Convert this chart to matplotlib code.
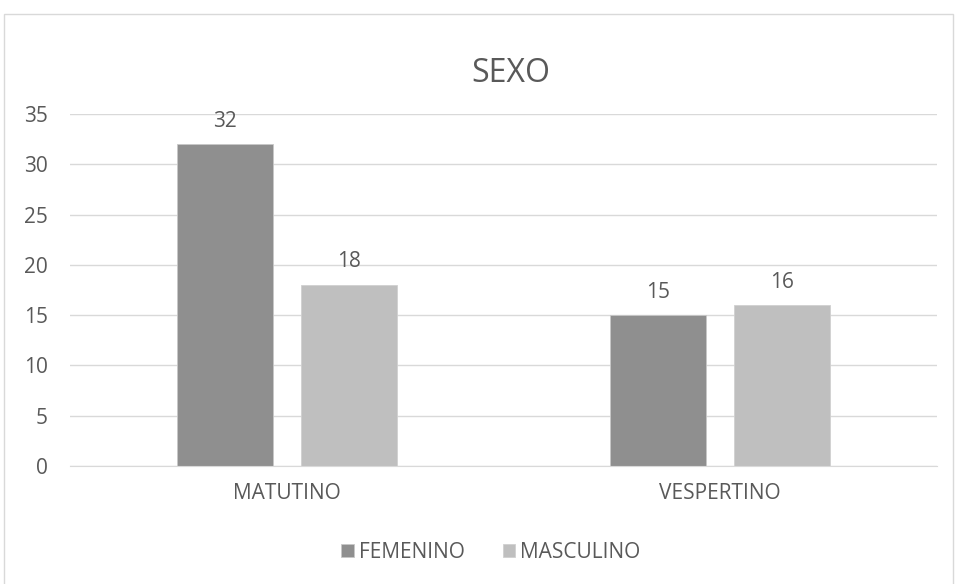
import matplotlib.pyplot as plt
import numpy as np
from matplotlib.patches import Rectangle

turnos = ['MATUTINO', 'VESPERTINO']
femenino = [32, 15]
masculino = [18, 16]
series_labels = ['FEMENINO', 'MASCULINO']
yticks = [0, 5, 10, 15, 20, 25, 30, 35]

txt = '#595959'
plt.rcParams['font.family'] = ['Open Sans', 'DejaVu Sans']
fs = 15

fig = plt.figure(figsize=(9.56, 5.84), dpi=100)
ax = fig.add_axes([70/956, 1 - 466/584, 867/956, 352/584])

# chart border
fig.patches.append(Rectangle((4/956, -0.01), 949/956, 1 - 14/584 + 0.01,
                             transform=fig.transFigure, fill=False,
                             edgecolor='#d9d9d9', linewidth=1))

x = np.arange(len(turnos))
w = 0.222
off = 0.143
b1 = ax.bar(x - off, femenino, w, color='#8f8f8f', edgecolor='#c8c8c8',
            linewidth=0.6, label=series_labels[0], zorder=3)
b2 = ax.bar(x + off, masculino, w, color='#bfbfbf', edgecolor='#d0d0d0',
            linewidth=0.6, label=series_labels[1], zorder=3)

for bars in (b1, b2):
    for r in bars:
        ax.annotate(f'{r.get_height():g}', (r.get_x() + r.get_width()/2, r.get_height()),
                    xytext=(0, 9), textcoords='offset points', ha='center', va='bottom',
                    fontsize=fs, color=txt)

ax.set_xlim(-0.5, 1.5)
ax.set_ylim(0, 35)
ax.set_yticks(yticks)
ax.set_xticks(x)
ax.set_xticklabels(turnos)
ax.tick_params(axis='y', length=0, pad=16, labelsize=fs, labelcolor=txt)
ax.tick_params(axis='x', length=0, pad=12, labelsize=fs, labelcolor=txt)
ax.grid(axis='y', color='#d9d9d9', linewidth=1, zorder=0)
for s in ['top', 'right', 'left']:
    ax.spines[s].set_visible(False)
ax.spines['bottom'].set_color('#d9d9d9')
ax.spines['bottom'].set_zorder(4)

fig.text(511/956, 1 - 74/584, 'SEXO', ha='center', va='center', fontsize=23, color=txt)

fig.legend(handles=[b1, b2], loc='center', bbox_to_anchor=(491/956, 1 - 552/584),
           ncol=2, frameon=False, fontsize=fs, labelcolor=txt,
           handlelength=0.6, handleheight=0.6, handletextpad=0.25, columnspacing=1.8)

fig.savefig('out.png', dpi=100)
